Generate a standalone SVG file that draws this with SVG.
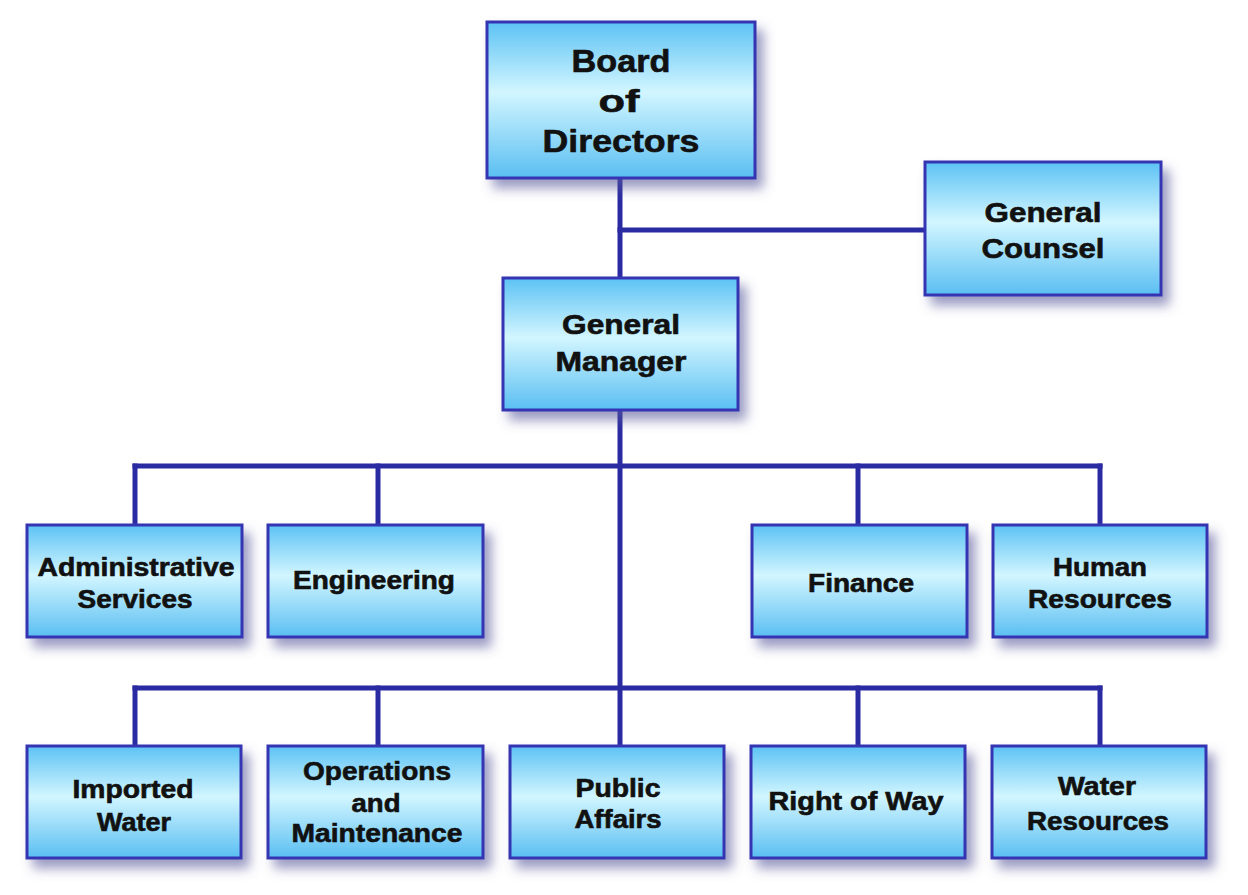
<svg xmlns="http://www.w3.org/2000/svg" width="1248" height="895" viewBox="0 0 1248 895">
  <defs>
    <linearGradient id="boxGrad" x1="0" y1="0" x2="0" y2="1">
      <stop offset="0" stop-color="#5cc2f4"/>
      <stop offset="0.45" stop-color="#d2f6ff"/>
      <stop offset="1" stop-color="#5abef2"/>
    </linearGradient>
    <filter id="shadow" x="-10%" y="-10%" width="135%" height="145%">
      <feDropShadow dx="7" dy="9" stdDeviation="6" flood-color="#58589c" flood-opacity="0.6"/>
    </filter>
  </defs>
  <style>
    .box { fill: url(#boxGrad); stroke: #3434b4; stroke-width: 3; filter: url(#shadow); }
    .conn { stroke: #2a2aa2; stroke-width: 5; fill: none; stroke-linecap: square; }
    text { font-family: "Liberation Sans", Arial, sans-serif; font-weight: bold; fill: #111; stroke: #111; stroke-width: 0.6; text-anchor: middle; }
    .t32 { font-size: 32px; }
    .t27 { font-size: 27px; }
    .t25 { font-size: 25px; }
  </style>
  <rect width="1248" height="895" fill="#ffffff"/>

  <g id="connectors">
    <line class="conn" x1="620" y1="180" x2="620" y2="276"/>
    <line class="conn" x1="620" y1="230" x2="923" y2="230"/>
    <line class="conn" x1="620" y1="412" x2="620" y2="744"/>
    <line class="conn" x1="135" y1="466" x2="1100" y2="466"/>
    <line class="conn" x1="135" y1="466" x2="135" y2="523"/>
    <line class="conn" x1="378" y1="466" x2="378" y2="523"/>
    <line class="conn" x1="858" y1="466" x2="858" y2="523"/>
    <line class="conn" x1="1100" y1="466" x2="1100" y2="523"/>
    <line class="conn" x1="135" y1="688" x2="1100" y2="688"/>
    <line class="conn" x1="135" y1="688" x2="135" y2="744"/>
    <line class="conn" x1="378" y1="688" x2="378" y2="744"/>
    <line class="conn" x1="858" y1="688" x2="858" y2="744"/>
    <line class="conn" x1="1100" y1="688" x2="1100" y2="744"/>
  </g>

  <g id="board">
    <rect class="box" x="487" y="22" width="268" height="156"/>
    <text class="t32" x="621" y="72" textLength="99" lengthAdjust="spacingAndGlyphs">Board</text>
    <text class="t32" x="619" y="112" textLength="41" lengthAdjust="spacingAndGlyphs">of</text>
    <text class="t32" x="621" y="152" textLength="157" lengthAdjust="spacingAndGlyphs">Directors</text>
  </g>

  <g id="general-counsel">
    <rect class="box" x="925" y="162" width="236" height="133"/>
    <text class="t27" x="1043" y="222" textLength="117" lengthAdjust="spacingAndGlyphs">General</text>
    <text class="t27" x="1043" y="258" textLength="123" lengthAdjust="spacingAndGlyphs">Counsel</text>
  </g>

  <g id="general-manager">
    <rect class="box" x="503" y="278" width="235" height="132"/>
    <text class="t27" x="621" y="334" textLength="118" lengthAdjust="spacingAndGlyphs">General</text>
    <text class="t27" x="621" y="371" textLength="131" lengthAdjust="spacingAndGlyphs">Manager</text>
  </g>

  <g id="administrative-services">
    <rect class="box" x="27" y="525" width="215" height="112"/>
    <text class="t25" x="136" y="576" textLength="197" lengthAdjust="spacingAndGlyphs">Administrative</text>
    <text class="t25" x="135" y="608" textLength="115" lengthAdjust="spacingAndGlyphs">Services</text>
  </g>

  <g id="engineering">
    <rect class="box" x="268" y="525" width="215" height="112"/>
    <text class="t25" x="374" y="589" textLength="162" lengthAdjust="spacingAndGlyphs">Engineering</text>
  </g>

  <g id="finance">
    <rect class="box" x="752" y="525" width="215" height="112"/>
    <text class="t25" x="861" y="592" textLength="106" lengthAdjust="spacingAndGlyphs">Finance</text>
  </g>

  <g id="human-resources">
    <rect class="box" x="993" y="525" width="214" height="112"/>
    <text class="t25" x="1100" y="576" textLength="94" lengthAdjust="spacingAndGlyphs">Human</text>
    <text class="t25" x="1100" y="608" textLength="144" lengthAdjust="spacingAndGlyphs">Resources</text>
  </g>

  <g id="imported-water">
    <rect class="box" x="27" y="746" width="214" height="112"/>
    <text class="t25" x="133" y="798" textLength="121" lengthAdjust="spacingAndGlyphs">Imported</text>
    <text class="t25" x="134" y="831" textLength="74" lengthAdjust="spacingAndGlyphs">Water</text>
  </g>

  <g id="operations-and-maintenance">
    <rect class="box" x="268" y="746" width="215" height="112"/>
    <text class="t25" x="377" y="780" textLength="148" lengthAdjust="spacingAndGlyphs">Operations</text>
    <text class="t25" x="376" y="812" textLength="49" lengthAdjust="spacingAndGlyphs">and</text>
    <text class="t25" x="377" y="842" textLength="171" lengthAdjust="spacingAndGlyphs">Maintenance</text>
  </g>

  <g id="public-affairs">
    <rect class="box" x="510" y="746" width="214" height="112"/>
    <text class="t25" x="618" y="797" textLength="85" lengthAdjust="spacingAndGlyphs">Public</text>
    <text class="t25" x="618" y="828" textLength="87" lengthAdjust="spacingAndGlyphs">Affairs</text>
  </g>

  <g id="right-of-way">
    <rect class="box" x="751" y="746" width="214" height="112"/>
    <text class="t25" x="856" y="810" textLength="175" lengthAdjust="spacingAndGlyphs">Right of Way</text>
  </g>

  <g id="water-resources">
    <rect class="box" x="992" y="746" width="214" height="112"/>
    <text class="t25" x="1097" y="795" textLength="78" lengthAdjust="spacingAndGlyphs">Water</text>
    <text class="t25" x="1098" y="830" textLength="142" lengthAdjust="spacingAndGlyphs">Resources</text>
  </g>
</svg>
